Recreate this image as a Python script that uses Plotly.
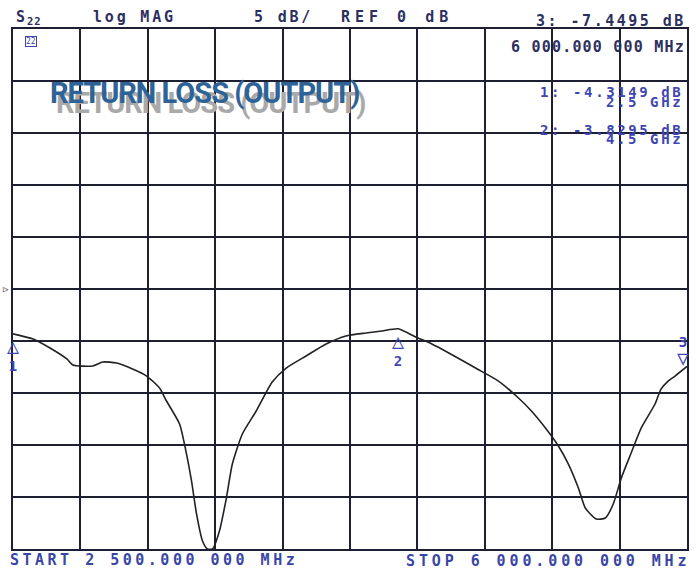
import plotly.graph_objects as go

# Trace data (frequency in GHz, S22 in dB)
freq_ghz = [2.500, 2.604, 2.692, 2.780, 2.811, 2.914, 2.966, 3.038, 3.121, 3.194,
            3.261, 3.297, 3.365, 3.401, 3.427, 3.453, 3.484, 3.510, 3.536, 3.572,
            3.608, 3.639, 3.691, 3.763, 3.846, 3.919, 4.022, 4.126, 4.229, 4.333,
            4.416, 4.500, 4.592, 4.675, 4.763, 4.902, 5.021, 5.125, 5.192, 5.265,
            5.332, 5.384, 5.436, 5.472, 5.529, 5.576, 5.617, 5.659, 5.710, 5.762,
            5.834, 5.865, 5.902, 5.938, 6.000]
s22_db = [-4.31, -4.81, -5.67, -6.73, -7.31, -7.40, -7.02, -7.12, -7.69, -8.37,
          -9.52, -10.77, -12.98, -15.87, -18.46, -21.63, -24.23, -25.0, -25.0, -23.27,
          -20.10, -16.83, -13.94, -11.73, -8.94, -7.60, -6.44, -5.29, -4.52, -4.23,
          -4.04, -3.83, -4.62, -5.29, -6.15, -7.60, -8.85, -10.48, -11.73, -13.37,
          -15.10, -16.83, -19.13, -21.06, -22.12, -22.02, -20.67, -18.17, -15.77, -13.37,
          -11.06, -9.62, -8.85, -8.37, -7.45]

marker_ids = ["1", "2", "3"]
marker_freq = [2.5, 4.5, 6.0]
marker_db = [-4.3149, -3.8295, -7.4495]

x_start, x_stop = 2.5, 6.0
ref_db, scale_db = 0, 5

GRID = "#1f1f33"
BLUE = "#4046b0"
DARK = "#2d2f5e"
FOOT = "#3a46a6"

fig = go.Figure()
fig.add_trace(go.Scatter(x=freq_ghz, y=s22_db, mode="lines",
                         line=dict(color="#222222", width=1.6, shape="spline", smoothing=0.6),
                         hoverinfo="skip", showlegend=False))

axis_common = dict(showgrid=True, gridcolor=GRID, gridwidth=1.8, zeroline=False,
                   showline=True, linecolor=GRID, linewidth=2, mirror=True,
                   showticklabels=False, ticks="")
fig.update_xaxes(range=[x_start, x_stop], tick0=x_start, dtick=(x_stop - x_start) / 10, **axis_common)
fig.update_yaxes(range=[ref_db - 5 * scale_db, ref_db + 5 * scale_db], tick0=ref_db, dtick=scale_db, **axis_common)

mono = "DejaVu Sans Mono"
def sp(t, ls):
    return f'<span style="letter-spacing:{ls}px">{t}</span>'

W, H = 698, 569
L, R, T, B = 13, 9, 29, 20
def px(xp):
    return (xp - L) / (W - L - R)
def py(yp):
    return (H - B - yp) / (H - T - B)

ann = []
def add(text, x, y, xanchor="left", size=15, color=DARK, bold=True, **kw):
    if bold:
        text = "<b>" + text + "</b>"
    ann.append(dict(text=text, x=px(x), y=py(y), xref="paper", yref="paper", xanchor=xanchor,
                    yanchor="middle", showarrow=False,
                    font=dict(family=mono, size=size, color=color), **kw))

# header
add(sp("S", 2) + "<sub>" + sp("22", 1) + "</sub>", 14, 17)
add(sp("log MAG", 2.8), 91, 17)
add(sp("5 dB/", 2.8), 253, 17)
add(sp("REF 0 dB", 5), 340, 17)
add(sp("3: -7.4495 dB", 2.5), 690, 21, xanchor="right")
add(sp("6 000.000 000 MHz", 1.2), 689, 47, xanchor="right")
# marker readouts
add(sp("1: -4.3149 dB", 2.6), 687, 92, xanchor="right", size=14, color=BLUE)
add(sp("2.5 GHz", 2.6), 687, 102, xanchor="right", size=14, color=BLUE)
add(sp("2: -3.8295 dB", 2.6), 687, 130, xanchor="right", size=14, color=BLUE)
add(sp("4.5 GHz", 2.6), 687, 139, xanchor="right", size=14, color=BLUE)
# footer
add(sp("START 2 500.000 000 MHz", 3.5), 8, 560, color=FOOT)
add(sp("STOP 6 000.000 000 MHz", 3.9), 694, 561, xanchor="right", color=FOOT)
# small channel icon
add("22", 31, 41, xanchor="center", size=8, color=BLUE, bold=False,
    bordercolor=BLUE, borderwidth=1, borderpad=0)
# reference level pointer
add("▷", 1, 289, size=9, color="#222222", bold=False)

# title with shadow
title = "RETURN LOSS (OUTPUT)"
for dx, dy, col in [(6, 10, "#a9a9a9"), (0, 0, "#2d6397")]:
    ann.append(dict(text="<b>" + sp(title, -1) + "</b>", x=px(48 + dx), y=py(93 + dy),
                    xref="paper", yref="paper", xanchor="left", yanchor="middle", showarrow=False,
                    font=dict(family="Roboto", size=29, color=col)))

# marker symbols
for mid, f, d in zip(marker_ids, marker_freq, marker_db):
    if mid == "3":
        ann.append(dict(text="<b>3</b><br><span style='font-size:20px'>▽</span>", x=f, y=d,
                        xref="x", yref="y", xanchor="center", yanchor="bottom",
                        xshift=-4, yshift=-6, showarrow=False,
                        font=dict(family=mono, size=14, color=BLUE)))
    else:
        ann.append(dict(text="<span style='font-size:20px'>△</span><br><b>" + mid + "</b>", x=f, y=d,
                        xref="x", yref="y", xanchor="center", yanchor="top",
                        yshift=2, showarrow=False,
                        font=dict(family=mono, size=14, color=BLUE)))

fig.update_layout(width=W, height=H, margin=dict(l=L, r=R, t=T, b=B),
                  paper_bgcolor="white", plot_bgcolor="white", annotations=ann,
                  showlegend=False)

fig.write_html("out.html", config={"displayModeBar": False},
               post_script="document.body.style.margin='0px';")
